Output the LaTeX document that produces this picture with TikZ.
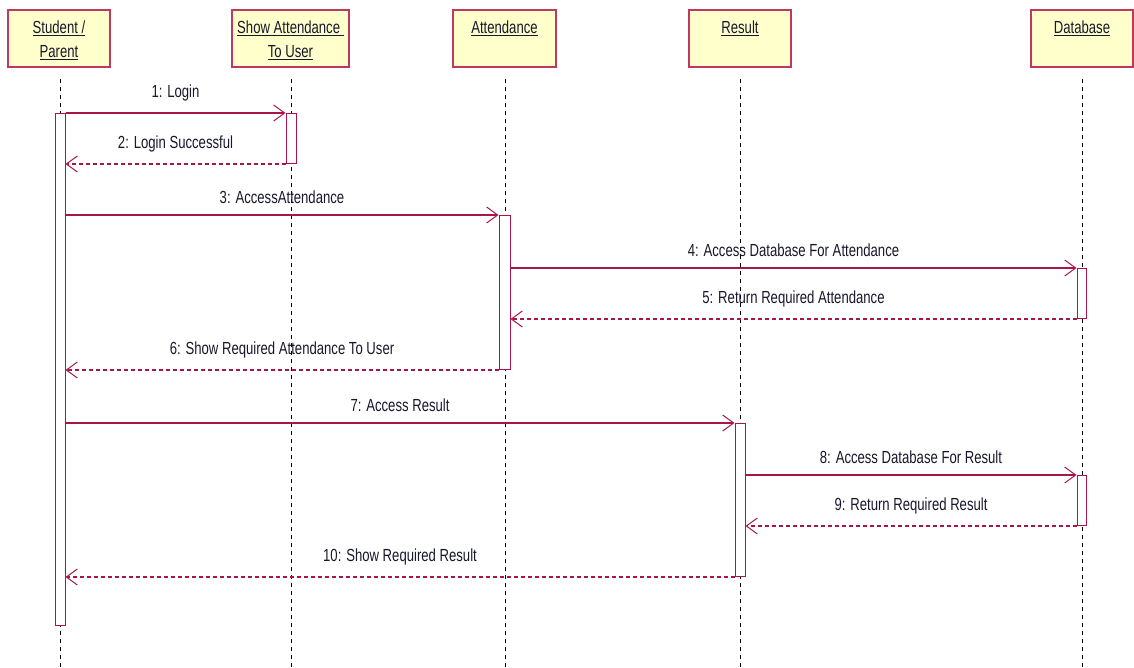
\documentclass[tikz,border=0pt]{standalone}
\usepackage{fontspec}
\setmainfont{Liberation Sans}[FakeStretch=0.75]
\usetikzlibrary{arrows.meta}
\definecolor{umlline}{RGB}{168,22,72}
\definecolor{umlbox}{RGB}{192,56,96}
\definecolor{umlfill}{RGB}{255,255,204}
\definecolor{umltext}{RGB}{24,24,44}
\begin{document}
\begin{tikzpicture}[x=1pt,y=-1pt,
  objbox/.style={draw=umlbox, fill=umlfill, line width=1.2pt, minimum width=102pt, minimum height=57pt, inner sep=0pt},
  objtext/.style={anchor=north, align=center, text=umltext, font=\fontsize{17.5}{24}\selectfont, inner sep=0pt},
  lifeline/.style={draw=black, line width=0.9pt, dash pattern=on 4pt off 4pt, shorten <=11pt},
  actbar/.style={draw=umlline, fill=white, line width=1pt, minimum width=10pt, inner sep=0pt, anchor=north},
  msg/.style={draw=umlline, line width=1.3pt, -{Straight Barb[length=11pt,width=16pt,line width=1pt]}},
  reply/.style={msg, dash pattern=on 4pt off 3pt},
  lbl/.style={midway, above=11pt, text=umltext, font=\fontsize{17.5}{20}\selectfont, inner sep=0pt}
]
\useasboundingbox (0,0) rectangle (1134,668);

% object boxes
\node[objbox] (stu) at (59,38.5) {};
\node[objbox, minimum width=117pt] (sat) at (290.5,38.5) {};
\node[objbox, minimum width=103pt] (att) at (504.5,38.5) {};
\node[objbox] (res) at (740,38.5) {};
\node[objbox] (db) at (1082,38.5) {};
\node[objtext] (stuT) at (59,21) {\underline{Student /}\\\underline{Parent}};
\node[objtext] (satT) at (290.5,21) {\underline{Show Attendance }\\\underline{To User}};
\node[objtext] (attT) at (504.5,21) {\underline{Attendance}};
\node[objtext] (resT) at (740,21) {\underline{Result}};
\node[objtext] (dbT) at (1082,21) {\underline{Database}};

% lifelines
\coordinate (stuE) at (60,668);
\coordinate (satE) at (291,668);
\coordinate (attE) at (505,668);
\coordinate (resE) at (740,668);
\coordinate (dbE) at (1082,668);
\draw[lifeline] (stu.south -| stuE) -- (stuE);
\draw[lifeline] (sat.south -| satE) -- (satE);
\draw[lifeline] (att.south -| attE) -- (attE);
\draw[lifeline] (res.south -| resE) -- (resE);
\draw[lifeline] (db.south -| dbE) -- (dbE);

% activation bars
\node[actbar, minimum height=512pt] (stuA) at (60,113) {};
\node[actbar, minimum height=50pt] (satA) at (291,113) {};
\node[actbar, minimum height=154pt, minimum width=11pt] (attA) at (504.5,215) {};
\node[actbar, minimum height=50pt, minimum width=9pt] (dbA1) at (1081.5,268) {};
\node[actbar, minimum height=50pt, minimum width=9pt] (dbA2) at (1081.5,475) {};
\node[actbar, minimum height=153pt] (resA) at (740,423) {};

% messages
\draw[msg] (stuA.east |- satA.north) -- (satA.north west) node[lbl] {1: Login};
\draw[reply] (satA.south west) -- (stuA.east |- satA.south) node[lbl] {2: Login Successful};
\draw[msg] (stuA.east |- attA.north) -- (attA.north west) node[lbl] {3: AccessAttendance};
\draw[msg] (attA.east |- dbA1.north) -- (dbA1.north west) node[lbl] {4: Access Database For Attendance};
\draw[reply] (dbA1.south west) -- (attA.east |- dbA1.south) node[lbl] {5: Return Required Attendance};
\draw[reply] (attA.south west) -- (stuA.east |- attA.south) node[lbl] {6: Show Required Attendance To User};
\draw[msg] (stuA.east |- resA.north) -- (resA.north west) node[lbl] {7: Access Result};
\draw[msg] (resA.east |- dbA2.north) -- (dbA2.north west) node[lbl] {8: Access Database For Result};
\draw[reply] (dbA2.south west) -- (resA.east |- dbA2.south) node[lbl] {9: Return Required Result};
\draw[reply] (resA.south west) -- (stuA.east |- resA.south) node[lbl] {10: Show Required Result};
\end{tikzpicture}
\end{document}
